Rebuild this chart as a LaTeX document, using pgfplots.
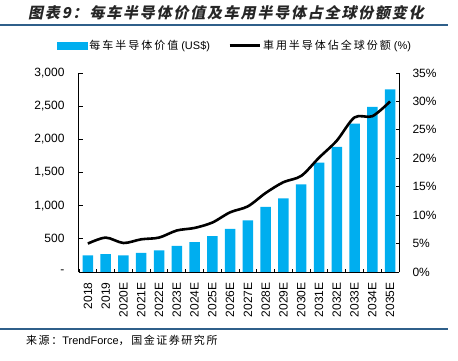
\documentclass[border=0pt]{standalone}
\usepackage{fontspec}
\usepackage{pgfplots}
\pgfplotsset{compat=1.18}
\setmainfont{Liberation Sans}
\newfontfamily\cjk{Noto Sans CJK SC}
\newfontfamily\cjkls{Noto Sans CJK SC}[LetterSpace=18]
\newfontfamily\cjksrc{Noto Sans CJK SC}[LetterSpace=14]
\newfontfamily\cjktitle{Noto Sans CJK SC}[FakeSlant=0.2, LetterSpace=12]
\definecolor{barblue}{HTML}{00AEEF}
\definecolor{ruleblue}{HTML}{2F5F8A}
\begin{document}
\begin{tikzpicture}[x=1pt,y=1pt]
\path[use as bounding box] (0,0) rectangle (458,360);
\node[anchor=west, inner sep=0pt, text=black!85, font=\cjktitle\bfseries\fontsize{15}{15}\selectfont] at (28,347) {图表9：每车半导体价值及车用半导体占全球份额变化};
\draw[ruleblue, line width=1.5pt] (0,335) -- (448,335);

\begin{axis}[
  at={(79pt,88pt)}, anchor=south west, scale only axis,
  width=320pt, height=199pt,
  xmin=-0.5, xmax=17.5, ymin=0, ymax=3000,
  axis y line*=left, axis x line*=bottom,
  axis line style={line width=1pt, black},
  ytick={0,500,...,3000},
  yticklabels={-,500,{1,000},{1,500},{2,000},{2,500},{3,000}},
  xtick={0,...,17},
  xticklabels={2018,2019,2020E,2021E,2022E,2023E,2024E,2025E,2026E,2027E,2028E,2029E,2030E,2031E,2032E,2033E,2034E,2035E},
  xtick style={draw=none},
  tick align=inside, major tick length=3.5pt,
  ytick style={black, line width=0.8pt},
  ticklabel style={font=\fontsize{12}{12}\selectfont, text=black},
  yticklabel style={xshift=-11pt},
  xticklabel style={yshift=-7pt, rotate=90, anchor=east},
  clip=false,
]
\addplot[ybar, bar width=10.5pt, fill=barblue, draw=none] coordinates {
(0,250) (1,270) (2,250) (3,290) (4,325) (5,395) (6,450) (7,540) (8,650)
(9,780) (10,980) (11,1110) (12,1320) (13,1650) (14,1885) (15,2235) (16,2490) (17,2755)};
\end{axis}

\begin{axis}[
  at={(79pt,88pt)}, anchor=south west, scale only axis,
  width=320pt, height=199pt,
  xmin=-0.5, xmax=17.5, ymin=0, ymax=35,
  axis y line*=right, axis x line*=bottom,
  axis line style={line width=1pt, black},
  xtick={-0.5,0.5,...,17.5}, xticklabels={},
  ytick={0,5,...,35},
  yticklabel={\pgfmathprintnumber{\tick}\%},
  /pgf/number format/assume math mode=true,
  tick align=inside, major tick length=3.5pt,
  tick style={black, line width=0.8pt},
  ticklabel style={font=\fontsize{12}{12}\selectfont, text=black},
  yticklabel style={xshift=10pt},
  legend style={at={(0.4875,1.136)}, anchor=center, draw=none, fill=none,
    legend columns=2, inner sep=0pt,
    /tikz/every even column/.append style={column sep=16pt},
    font=\fontsize{11}{11}\selectfont},
  legend cell align=left,
  clip=false,
]
\addlegendimage{legend image code/.code={\fill[barblue] (0pt,-3.5pt) rectangle (30pt,3.5pt);}}
\addlegendentry{{\cjkls 每车半导体价值} (US\$)}
\addplot[black, line width=2.6pt, smooth, tension=0.5,
  legend image code/.code={\draw[black, line width=3pt] (0pt,0pt) -- (30pt,0pt);}] coordinates {
(0,5.0) (1,6.05) (2,5.1) (3,5.75) (4,6.05) (5,7.3) (6,7.75) (7,8.7) (8,10.5)
(9,11.55) (10,13.9) (11,15.8) (12,16.9) (13,20.1) (14,23.1) (15,27.2) (16,27.4) (17,30.0)};
\addlegendentry{{\cjkls 車用半导体佔全球份额} (\%)}
\end{axis}

\draw[ruleblue, line width=1.2pt] (0,31) -- (448,31);
\node[anchor=west, inner sep=0pt, font=\fontsize{11}{11}\selectfont] at (26,20) {{\cjksrc 来源：}TrendForce{\cjksrc ，国金证券研究所}};
\end{tikzpicture}
\end{document}
